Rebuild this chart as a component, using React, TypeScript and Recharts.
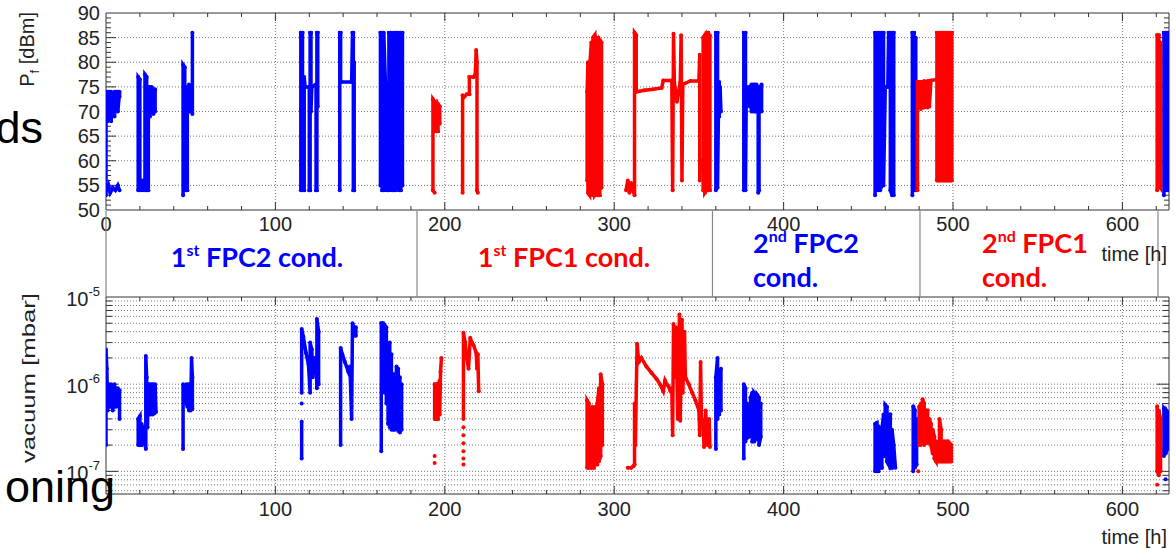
import React from 'react';
import { ScatterChart, Scatter, XAxis, YAxis, CartesianGrid, ReferenceLine } from 'recharts';

type Pt = [number, number];

const BLUE = '#0000ff';
const RED = '#ff0000';
const FONT = '"Liberation Sans", Arial, sans-serif';
const W = 1176;
const PLOT_L = 106;
const PLOT_R = 1169;

const T_MAX = 627.5;
const PF_MIN = 50;
const PF_MAX = 90;
const VAC_MIN = 5.5e-8;
const VAC_MAX = 1e-5;

// axes
const timeTicks = [0, 100, 200, 300, 400, 500, 600];
const timeTicksLow = [100, 200, 300, 400, 500, 600];
const timeMajor = [100, 200, 300, 400, 500, 600];
const timeMinor = [20, 40, 60, 80, 120, 140, 160, 180, 220, 240, 260, 280, 320, 340, 360, 380, 420, 440, 460, 480, 520, 540, 560, 580, 620];
const pfTicks = [50, 55, 60, 65, 70, 75, 80, 85, 90];
const pfMajor = [55, 60, 65, 70, 75, 80, 85];
const pfMinor = [51, 52, 53, 54, 56, 57, 58, 59, 61, 62, 63, 64, 66, 67, 68, 69, 71, 72, 73, 74, 76, 77, 78, 79, 81, 82, 83, 84, 86, 87, 88, 89];
const vacTicks = [1e-7, 1e-6, 1e-5];
const vacMajor = [1e-7, 1e-6];
const vacMinor = [6e-8, 7e-8, 8e-8, 9e-8, 2e-7, 3e-7, 4e-7, 5e-7, 6e-7, 7e-7, 8e-7, 9e-7, 2e-6, 3e-6, 4e-6, 5e-6, 6e-6, 7e-6, 8e-6, 9e-6];

// forward power [dBm], FPC2 (blue)
const pfBlue: Pt[][] = [
  [[0, 53], [0, 74], [1, 74], [1, 68], [2, 74], [2, 69], [3, 74], [3, 68], [4, 73.5], [4, 70], [5, 74], [5, 69], [6, 74], [6, 71], [7, 74], [7, 70], [8, 74], [8, 73]],
  [[0.5, 54], [1.5, 55], [2.5, 53.5], [4, 54.5], [5.5, 54], [7, 55], [8, 54]],
  [[19, 54], [19, 77], [20, 76.5], [20, 54], [21.5, 54], [21.5, 56], [23, 54], [23, 77.5], [24, 77], [24, 54], [25, 54], [25, 75], [26, 69], [26, 75], [27, 70], [27, 75], [28, 69.5], [28, 74.5], [29, 70], [29, 74.5]],
  [[45.5, 53], [45.5, 79.5], [46.5, 79], [46.5, 74], [47, 73], [47, 54], [48, 54], [48, 75], [49, 70], [49, 75.5], [50, 70], [50, 75], [51, 69.5], [51, 86]],
  [[115, 54], [115, 86], [116, 86], [116, 54], [117, 54], [117, 77], [117.5, 75], [120, 75], [120, 54], [120.5, 54], [120.5, 86], [121, 86], [121, 70], [121.5, 75], [124, 75.5], [124, 54], [124.5, 54], [124.5, 86], [125, 86], [125, 71]],
  [[138, 54], [138, 86], [138.5, 86], [138.5, 76], [145, 76], [145.5, 86], [146, 86], [146, 54], [146.5, 54], [146.5, 80]],
  [[162, 55], [162, 86], [163, 86], [163, 54], [164, 54], [164, 86], [165, 75], [166, 74], [166, 54], [167, 54], [167, 86], [168, 86], [168, 72], [169, 75], [169, 54], [170, 54], [170, 86], [171, 86], [171, 54], [172, 55], [172, 86], [173, 86], [173, 54], [174, 54], [174, 86], [175, 86], [175, 55]],
  [[360, 54], [360, 86], [361, 86], [361, 54.5], [361.5, 69], [362, 76], [362, 69], [362.5, 75], [363, 70]],
  [[376.5, 54], [376.5, 86], [377.5, 86], [377.5, 54], [378, 75], [380, 75], [380, 71], [381, 75.5], [381, 70], [382, 75.5], [382, 70], [383, 75.5], [383, 70], [384, 75.5], [384, 70], [385, 70], [385, 53.5], [385.5, 54], [385.5, 75], [386, 75], [386, 70], [387, 75.5], [387, 70]],
  [[454, 53], [454, 86], [455, 86], [455, 54], [456, 54], [456, 86], [457, 86], [457, 54], [458, 55], [458, 86], [459, 86], [459, 55], [460, 75], [461.5, 75], [462, 86], [463, 86], [463, 54], [464, 53], [464, 86], [465, 86], [465, 53]],
  [[476, 53], [476, 86], [477, 86], [477, 54], [478, 54], [478, 85]],
  [[624.5, 53], [624.5, 86], [625.5, 86], [625.5, 54], [626.5, 54], [626.5, 86], [627.3, 86], [627.3, 54]],
];

// forward power [dBm], FPC1 (red)
const pfRed: Pt[][] = [
  [[194, 53.5], [193, 54], [193, 72.5], [194, 72], [194, 71], [195, 71.5], [195, 66], [196, 66], [196, 71.5], [197, 71], [197, 67.5]],
  [[210.5, 53.5], [210.5, 73.3], [211, 72.8], [213, 73.5], [214.5, 73.5], [214.5, 77], [217, 77], [218, 77.5], [218.5, 82.5], [219, 80], [219, 54], [219.5, 53.5]],
  [[284, 56], [284, 74], [284.5, 80], [284.5, 53.5], [285.5, 53], [285.5, 79], [286.5, 84], [286.5, 54], [287.5, 53], [287.5, 85], [288.5, 85.5], [288.5, 53], [289.5, 53.5], [289.5, 85], [290.5, 85], [290.5, 53], [291.5, 53], [291.5, 84.5], [292.5, 84], [292.5, 54.5]],
  [[307, 54], [308, 56], [309, 53.5], [310, 55.5], [311, 54], [312, 53], [312, 86], [313, 85.5], [313, 74], [318, 74.3], [323, 74.5], [328, 74.8], [329, 76.3], [334, 76.3], [334.5, 54], [335, 85.8], [335.5, 76], [337, 72], [338, 74], [339, 76], [339.5, 85.5], [340, 56], [340.5, 75.5], [345, 76.2], [350, 76.2], [350.5, 81.5], [350.5, 56], [351, 60]],
  [[352.5, 54], [352.5, 85], [353.5, 85.5], [353.5, 53.5], [354.5, 54], [354.5, 86], [355.5, 86], [355.5, 54], [356.5, 54], [356.5, 85.5]],
  [[479, 54], [479, 55.5], [479, 76], [480, 76], [480, 71], [481, 76], [481, 70.5], [482, 76], [482, 70.8], [483, 76.2], [483, 70.8], [484, 76], [484, 71], [485, 76.2], [485, 70.8], [486, 76.2], [486, 71], [487, 76.3], [490.5, 76.5]],
  [[490.5, 56], [490.5, 86], [491.5, 86], [491.5, 56], [492.5, 56], [492.5, 86], [493.5, 86], [493.5, 56], [494.5, 56], [494.5, 86], [495.5, 86], [495.5, 56], [496.5, 56], [496.5, 86], [497.5, 86], [497.5, 56], [498.5, 56], [498.5, 86], [499.3, 86], [499.3, 56]],
  [[620.5, 54], [620.5, 85.5], [621.5, 85.5], [621.5, 55], [622.5, 54.5], [622.5, 84]],
];

// vacuum [mbar], FPC2 (blue)
const vacBlue: Pt[][] = [
  [[0, 2e-7], [0, 2.5e-6], [0.5, 1.5e-6], [1, 5e-7], [1.5, 1e-6], [2, 5.5e-7], [3, 1e-6], [3, 5.5e-7], [4, 9.5e-7], [4, 5e-7], [5, 1e-6], [5, 5.5e-7], [6, 9e-7], [6, 5.5e-7], [7, 9e-7], [7, 6e-7], [8, 8.5e-7], [8, 4e-7]],
  [[19, 2e-7], [19, 4e-7], [20, 4.3e-7], [20, 2e-7], [21, 2e-7], [21, 3.5e-7], [22, 3e-7], [22.5, 2.5e-7], [23.5, 1.8e-7], [23.5, 2.1e-6], [24, 1.2e-6], [24.5, 3.2e-7], [25, 1e-6], [25.5, 4.5e-7], [26, 1e-6], [26.5, 4.5e-7], [27, 1e-6], [27.5, 4.5e-7], [28, 1e-6], [28.5, 4.6e-7], [29, 1e-6], [29.5, 4.8e-7]],
  [[45.5, 1.8e-7], [45.5, 1e-6], [46.5, 9e-7], [47, 6e-7], [47.5, 1e-6], [48, 5.5e-7], [48.5, 1e-6], [49, 5e-7], [49.5, 1e-6], [50, 5e-7], [50.5, 2e-6], [51, 1.2e-6], [51, 5.2e-7]],
  [[115.5, 1.4e-7], [115.5, 3.7e-7]],
  [[115.5, 8e-7], [115.5, 4.3e-6], [116.5, 3.5e-6], [118, 2.3e-6], [119.5, 1.7e-6], [120.5, 8e-7], [120.5, 3e-6], [121.5, 2.5e-6], [122, 1.2e-6], [123, 2e-6], [124, 1.8e-6], [124.5, 9e-7], [124.5, 5.6e-6], [125.5, 4e-6], [125.5, 1e-6]],
  [[138.5, 2e-7], [138.5, 2.6e-6], [139.5, 2.2e-6], [141, 1.8e-6], [143, 1.4e-6], [144, 1.6e-6], [145, 4e-7], [145.5, 5e-6], [146.5, 4.5e-6], [146.5, 3.6e-6], [147.5, 4.5e-6], [147.5, 3.6e-6]],
  [[162.5, 1.7e-7], [162.5, 5e-6], [163.5, 5e-6], [163.5, 1e-6], [164.5, 4.8e-6], [164.5, 8e-7], [165.5, 4.5e-6], [165.5, 6e-7], [166.5, 2.5e-6], [166.5, 3.5e-7], [167.5, 3e-6], [167.5, 3.2e-7], [168.5, 2.2e-6], [168.5, 3e-7], [169.5, 1.3e-6], [169.5, 3e-7], [170.5, 1.3e-6], [170.5, 3e-7], [171.5, 1.6e-6], [171.5, 3.2e-7], [172.5, 1.5e-6], [172.5, 2.9e-7], [173.5, 1.2e-6], [173.5, 2.8e-7], [174.5, 1e-6], [174.5, 3e-7]],
  [[360, 1.8e-7], [360, 1.2e-6], [361, 2e-6], [361, 4e-7], [362, 1.3e-6], [362, 4.5e-7], [363, 1.5e-6], [363, 5e-7]],
  [[376.5, 1.4e-7], [376.5, 1e-6], [377.5, 9e-7], [377.5, 2.2e-7], [378.5, 3e-7], [378.5, 6e-7], [379.5, 5e-7], [379.5, 2.5e-7], [380.5, 2.6e-7], [380.5, 7e-7], [381.5, 8e-7], [381.5, 2.2e-7], [382.5, 2.2e-7], [382.5, 8e-7], [383.5, 7.5e-7], [383.5, 2.5e-7], [384.5, 2.3e-7], [384.5, 7.5e-7], [385.5, 7e-7], [385.5, 2e-7], [386.5, 2.5e-7], [386.5, 6e-7]],
  [[454, 1e-7], [454, 3.5e-7], [455, 3.6e-7], [455, 1e-7], [456, 1e-7], [456, 3.3e-7], [457, 3e-7], [457, 1.1e-7], [458, 1.1e-7], [458, 3e-7], [459, 4.5e-7], [459, 1.5e-7], [460, 1.5e-7], [460, 5.8e-7], [461, 5.5e-7], [461, 1.3e-7], [462, 1.2e-7], [462, 4.5e-7], [463, 4.5e-7], [463, 1.1e-7], [464, 1.1e-7], [464, 3e-7], [465, 2e-7], [466, 1.1e-7]],
  [[476.5, 1e-7], [476.5, 5.6e-7], [477.5, 5e-7], [477.5, 1.1e-7], [478.5, 1.2e-7], [478.5, 4e-7]],
  [[624.5, 1.5e-7], [624.5, 5.3e-7], [625.5, 5e-7], [625.5, 1.6e-7], [626.5, 1.8e-7], [626.5, 4.8e-7], [627.3, 4.5e-7], [627.3, 2e-7]],
];
const vacBlueDots: Pt[] = [[115.5, 6e-7], [625.5, 8.1e-8]];

// vacuum [mbar], FPC1 (red)
const vacRed: Pt[][] = [
  [[194, 4e-7], [194, 1e-6], [195, 1e-6], [195, 4e-7], [196, 4e-7], [196, 1e-6], [197, 1.1e-6], [197, 4.5e-7], [197.5, 1.4e-6], [198, 2e-6]],
  [[211, 4e-7], [211, 3.9e-6], [212, 3e-6], [213, 2e-6], [214, 1.5e-6], [215, 3.4e-6], [216, 3e-6], [217, 2.8e-6], [218.5, 2.3e-6], [219, 1.5e-6], [219.5, 2.2e-6], [220, 8.3e-7]],
  [[284, 1.1e-7], [284, 6.5e-7], [285, 6e-7], [285, 1.1e-7], [286, 1.1e-7], [286, 5e-7], [287, 5.5e-7], [287, 1.1e-7], [288, 1.1e-7], [288, 5e-7], [289, 5.5e-7], [289, 1.2e-7], [290, 1.2e-7], [290, 6e-7], [291, 9e-7], [291, 1.3e-7], [292, 1.5e-7], [292, 1.3e-6], [293, 1e-6], [293, 2e-7]],
  [[308, 1.1e-7], [310, 1.1e-7], [311.5, 1.15e-7], [312, 1.2e-7], [312, 6e-7], [312.5, 2e-7], [313.5, 2.9e-6], [314.5, 1.8e-6], [316, 2e-6], [319, 1.6e-6], [322, 1.35e-6], [325, 1.15e-6], [327, 1e-6], [329, 8.3e-7], [330, 1.1e-6], [331, 1e-6], [332, 9.5e-7], [333, 8.5e-7], [334, 9e-7], [334.5, 2.6e-7], [335, 4.9e-6], [336, 1.2e-6], [336.5, 4.5e-6], [337.5, 4e-7], [338.5, 6.3e-6], [339, 3.8e-7], [340, 5.5e-6], [340.5, 8e-7], [341.5, 4e-6], [342, 1.2e-6], [344, 1e-6], [346, 8e-7], [348, 6.5e-7], [350, 5e-7], [350.5, 2.6e-7], [351, 1.8e-6], [351.5, 4e-7], [352.5, 3.8e-7], [353, 1.9e-7], [354, 5e-7], [355, 2e-7], [356, 4e-7], [356.5, 1.9e-7]],
  [[480, 2e-7], [480, 5.5e-7], [481, 6e-7], [481, 2e-7], [482, 2.2e-7], [482, 6.7e-7], [483, 6e-7], [483, 2e-7], [484, 2.2e-7], [484, 5e-7], [485, 5e-7], [485, 2.1e-7], [486, 2.5e-7], [486, 4e-7], [487, 3.5e-7], [487, 2e-7], [488, 1.6e-7], [488, 3e-7], [489, 2.5e-7], [489, 1.4e-7], [490, 1.3e-7], [490, 2.2e-7], [491, 2.1e-7], [491, 1.3e-7], [492, 1.3e-7], [492, 4e-7], [493, 3e-7], [493, 1.3e-7], [494, 1.3e-7], [494, 2.2e-7], [495, 2.2e-7], [495, 1.3e-7], [496, 1.3e-7], [496, 2.2e-7], [497, 2.2e-7], [497, 1.3e-7], [498, 1.3e-7], [498, 2.1e-7], [499, 2e-7], [499, 1.3e-7]],
  [[620.5, 5.6e-7], [620.5, 1e-7], [621.5, 9e-8], [621.5, 5e-7], [622.5, 4e-7], [622.5, 1e-7]],
];
const vacRedDots: Pt[] = [[194, 1.5e-7], [194, 1.25e-7], [211, 1.2e-7], [211, 1.4e-7], [211, 1.7e-7], [211, 2.1e-7], [211, 2.6e-7], [211, 3.2e-7], [479.5, 1e-7], [620.5, 7e-8]];

// conditioning phases (band between the two panels)
const phaseEdges = [0, 183.6, 358, 480.5, 621];

const toData = (pts: Pt[]) => pts.map(([t, v]) => ({ t, v }));
const dotShape = (color: string) => (p: any) => <circle cx={p.cx} cy={p.cy} r={2} fill={color} />;
const tx = (t: number) => PLOT_L + (t / T_MAX) * (PLOT_R - PLOT_L);

const tickStyle = { fontSize: 20, fill: '#222', fontFamily: FONT };
const FRAME = '#333';

function series(blocks: Pt[][], color: string, key: string) {
  return blocks.map((b, i) => (
    <Scatter key={key + i} data={toData(b)} fill={color} line={{ stroke: color, strokeWidth: 3.5 }}
      shape={dotShape(color)} isAnimationActive={false} />
  ));
}

function PowTick(p: any) {
  const exp = Math.round(Math.log10(p.payload.value));
  return (
    <text x={p.x} y={p.y + 9} textAnchor="end" fontSize={20} fill="#222" fontFamily={FONT}>
      10<tspan fontSize={13} dy={-10}>{String(exp)}</tspan>
    </text>
  );
}

function PfChart() {
  const hx = (px: number) => (px * T_MAX) / (PLOT_R - PLOT_L);
  const hy = (px: number) => (px * (PF_MAX - PF_MIN)) / 197;
  return (
    <ScatterChart width={W} height={240} margin={{ top: 13, right: W - PLOT_R, bottom: 0, left: 0 }}>
      <CartesianGrid horizontalValues={pfMajor} verticalValues={timeMajor} stroke="#777" strokeDasharray="1 2" />
      <XAxis type="number" dataKey="t" domain={[0, T_MAX]} allowDataOverflow ticks={timeTicks} interval={0}
        height={30} tickSize={0} tickMargin={7} axisLine={{ stroke: FRAME }} tick={tickStyle} />
      <YAxis type="number" dataKey="v" domain={[PF_MIN, PF_MAX]} allowDataOverflow ticks={pfTicks} interval={0}
        width={PLOT_L} tickSize={0} tickMargin={6} axisLine={{ stroke: FRAME }} tick={tickStyle} />
      {pfMinor.map(v => <ReferenceLine key={'l' + v} segment={[{ x: 0, y: v }, { x: hx(5), y: v }]} stroke={FRAME} />)}
      {pfMajor.map(v => <ReferenceLine key={'L' + v} segment={[{ x: 0, y: v }, { x: hx(10), y: v }]} stroke={FRAME} />)}
      {pfMinor.map(v => <ReferenceLine key={'r' + v} segment={[{ x: T_MAX - hx(5), y: v }, { x: T_MAX, y: v }]} stroke={FRAME} />)}
      {pfMajor.map(v => <ReferenceLine key={'R' + v} segment={[{ x: T_MAX - hx(10), y: v }, { x: T_MAX, y: v }]} stroke={FRAME} />)}
      {timeMinor.map(t => <ReferenceLine key={'b' + t} segment={[{ x: t, y: PF_MIN }, { x: t, y: PF_MIN + hy(4) }]} stroke={FRAME} />)}
      {timeMajor.map(t => <ReferenceLine key={'B' + t} segment={[{ x: t, y: PF_MIN }, { x: t, y: PF_MIN + hy(8) }]} stroke={FRAME} />)}
      {timeMinor.map(t => <ReferenceLine key={'t' + t} segment={[{ x: t, y: PF_MAX - hy(4) }, { x: t, y: PF_MAX }]} stroke={FRAME} />)}
      {timeMajor.map(t => <ReferenceLine key={'T' + t} segment={[{ x: t, y: PF_MAX - hy(8) }, { x: t, y: PF_MAX }]} stroke={FRAME} />)}
      {series(pfBlue, BLUE, 'pb')}
      {series(pfRed, RED, 'pr')}
      <ReferenceLine y={PF_MAX} stroke={FRAME} />
      <ReferenceLine x={T_MAX} stroke={FRAME} />
    </ScatterChart>
  );
}

function VacChart() {
  const hx = (px: number) => (px * T_MAX) / (PLOT_R - PLOT_L);
  const decPx = 197 / Math.log10(VAC_MAX / VAC_MIN);
  const fy = (px: number) => Math.pow(10, px / decPx);
  return (
    <ScatterChart width={W} height={310} margin={{ top: 57, right: W - PLOT_R, bottom: 0, left: 0 }}>
      <CartesianGrid horizontalValues={[...vacMinor, ...vacMajor]} verticalValues={timeMajor} stroke="#777" strokeDasharray="1 2" />
      <XAxis type="number" dataKey="t" domain={[0, T_MAX]} allowDataOverflow ticks={timeTicksLow} interval={0}
        height={56} tickSize={0} tickMargin={8} axisLine={{ stroke: FRAME }} tick={tickStyle} />
      <YAxis type="number" dataKey="v" scale="log" domain={[VAC_MIN, VAC_MAX]} allowDataOverflow ticks={vacTicks} interval={0}
        width={PLOT_L} tickSize={0} tickMargin={6} axisLine={{ stroke: FRAME }} tick={<PowTick />} />
      {vacMinor.map(v => <ReferenceLine key={'l' + v} segment={[{ x: 0, y: v }, { x: hx(6), y: v }]} stroke={FRAME} />)}
      {vacMajor.map(v => <ReferenceLine key={'L' + v} segment={[{ x: 0, y: v }, { x: hx(12), y: v }]} stroke={FRAME} />)}
      {vacMinor.map(v => <ReferenceLine key={'r' + v} segment={[{ x: T_MAX - hx(6), y: v }, { x: T_MAX, y: v }]} stroke={FRAME} />)}
      {vacMajor.map(v => <ReferenceLine key={'R' + v} segment={[{ x: T_MAX - hx(12), y: v }, { x: T_MAX, y: v }]} stroke={FRAME} />)}
      {timeMinor.map(t => <ReferenceLine key={'b' + t} segment={[{ x: t, y: VAC_MIN }, { x: t, y: VAC_MIN * fy(4) }]} stroke={FRAME} />)}
      {timeMajor.map(t => <ReferenceLine key={'B' + t} segment={[{ x: t, y: VAC_MIN }, { x: t, y: VAC_MIN * fy(8) }]} stroke={FRAME} />)}
      {timeMinor.map(t => <ReferenceLine key={'t' + t} segment={[{ x: t, y: VAC_MAX / fy(4) }, { x: t, y: VAC_MAX }]} stroke={FRAME} />)}
      {timeMajor.map(t => <ReferenceLine key={'T' + t} segment={[{ x: t, y: VAC_MAX / fy(8) }, { x: t, y: VAC_MAX }]} stroke={FRAME} />)}
      {series(vacBlue, BLUE, 'vb')}
      {series(vacRed, RED, 'vr')}
      <Scatter data={toData(vacBlueDots)} fill={BLUE} shape={dotShape(BLUE)} isAnimationActive={false} />
      <Scatter data={toData(vacRedDots)} fill={RED} shape={dotShape(RED)} isAnimationActive={false} />
      <ReferenceLine y={VAC_MAX} stroke={FRAME} />
      <ReferenceLine x={T_MAX} stroke={FRAME} />
    </ScatterChart>
  );
}

const labelFont = { fontFamily: 'Lato, sans-serif', fontWeight: 700, fontSize: 27 };

function PhaseLabel({ x, y, ord, sup, rest, color, anchor }: any) {
  if (!sup) {
    return <text x={x} y={y} textAnchor={anchor} fill={color} {...labelFont}>{rest}</text>;
  }
  return (
    <text x={x} y={y} textAnchor={anchor} fill={color} {...labelFont}>
      {ord}<tspan fontSize={16} dy={-11}>{sup}</tspan><tspan dy={11}>{rest}</tspan>
    </text>
  );
}

export default function App() {
  return (
    <div style={{ position: 'absolute', left: 0, top: 0, width: W, height: 550, background: '#fff' }}>
      <div style={{ position: 'absolute', left: 0, top: 0 }}>
        <PfChart />
      </div>
      <div style={{ position: 'absolute', left: 0, top: 240 }}>
        <VacChart />
      </div>
      <svg width={W} height={550} style={{ position: 'absolute', left: 0, top: 0, pointerEvents: 'none' }}>
        {phaseEdges.map(t => (
          <line key={t} x1={tx(t)} x2={tx(t)} y1={211} y2={297} stroke="#888" strokeWidth={1.2} />
        ))}
        <PhaseLabel x={257} y={267} ord="1" sup="st" rest=" FPC2 cond." color={BLUE} anchor="middle" />
        <PhaseLabel x={564} y={267} ord="1" sup="st" rest=" FPC1 cond." color={RED} anchor="middle" />
        <PhaseLabel x={753} y={253} ord="2" sup="nd" rest=" FPC2" color={BLUE} anchor="start" />
        <PhaseLabel x={753} y={287} rest="cond." color={BLUE} anchor="start" />
        <PhaseLabel x={982} y={253} ord="2" sup="nd" rest=" FPC1" color={RED} anchor="start" />
        <PhaseLabel x={982} y={287} rest="cond." color={RED} anchor="start" />
        <text x={1167} y={261} textAnchor="end" fontSize={20} fill="#222" fontFamily={FONT}>time [h]</text>
        <text x={1167} y={544} textAnchor="end" fontSize={20} fill="#222" fontFamily={FONT}>time [h]</text>
        <text transform="translate(34,12) rotate(-90)" textAnchor="end" fontSize={20} fill="#222" fontFamily={FONT}>
          P<tspan fontSize={13} dy={5}>f</tspan><tspan dy={-5}> [dBm]</tspan>
        </text>
        <text transform="translate(35,293) rotate(-90)" textAnchor="end" fontSize={19} fill="#222" fontFamily={FONT}
          textLength={170} lengthAdjust="spacingAndGlyphs">vacuum [mbar]</text>
        <text x={43} y={143} textAnchor="end" fontSize={45} fill="#000" fontFamily={FONT}>ds</text>
        <text x={115} y={502} textAnchor="end" fontSize={45} fill="#000" fontFamily={FONT}>oning</text>
      </svg>
    </div>
  );
}
